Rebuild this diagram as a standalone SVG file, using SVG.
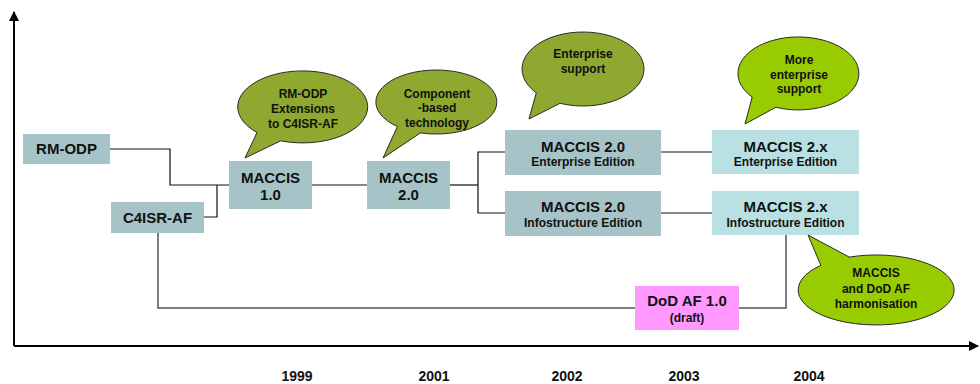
<svg xmlns="http://www.w3.org/2000/svg" width="980" height="384" viewBox="0 0 980 384">
<defs>
<marker id="ah" viewBox="0 0 10 10" refX="9" refY="5" markerWidth="10" markerHeight="10" markerUnits="userSpaceOnUse" orient="auto">
<path d="M0,0 L10,5 L0,10 Z" fill="#000"/>
</marker>
</defs>
<style>
text{font-family:"Liberation Sans",Arial,sans-serif;font-weight:bold;fill:#111;text-anchor:middle}
.b{font-size:15px}
.s{font-size:12px}
.y{font-size:14px}
.bt{font-size:12px}
.n1{fill:#a6c3c7}
.n2{fill:#b9e0e3}
.pk{fill:#ff99ff}
.ol{fill:#8fa830;stroke:#2a2a2a;stroke-width:1}
.lm{fill:#99cc00;stroke:#2a2a2a;stroke-width:1}
.c{fill:none;stroke:#111;stroke-width:1.2}
.g{fill:none;stroke:#555;stroke-width:1.5}
.ax{fill:none;stroke:#000;stroke-width:2}
</style>
<rect width="980" height="384" fill="#fff"/>
<g id="axes">
<line class="ax" x1="14" y1="346" x2="14" y2="12" marker-end="url(#ah)"/>
<line class="ax" x1="14" y1="346" x2="978" y2="346" marker-end="url(#ah)"/>
<text class="y" x="297" y="381">1999</text>
<text class="y" x="434" y="381">2001</text>
<text class="y" x="567" y="381">2002</text>
<text class="y" x="684" y="381">2003</text>
<text class="y" x="809" y="381">2004</text>
</g>
<g id="connectors">
<polyline class="c" points="110,149 170,149 170,185 229,185"/>
<polyline class="c" points="204,217 217,217 217,185"/>
<line class="c" x1="312" y1="185" x2="367" y2="185"/>
<line class="c" x1="450" y1="185" x2="478" y2="185"/>
<polyline class="c" points="505,152 478,152 478,213 505,213"/>
<line class="c" x1="661" y1="152" x2="712" y2="152"/>
<line class="c" x1="661" y1="213" x2="712" y2="213"/>
<polyline class="g" points="158,233 158,308 635,308"/>
<polyline class="g" points="739,308 786,308 786,235"/>
</g>
<g id="rm-odp">
<rect class="n1" x="23" y="134" width="87" height="30"/>
<text class="b" x="66.5" y="154">RM-ODP</text>
</g>
<g id="c4isr-af">
<rect class="n1" x="111" y="202" width="93" height="31"/>
<text class="b" x="157.5" y="223">C4ISR-AF</text>
</g>
<g id="maccis-1-0">
<rect class="n1" x="229" y="161" width="83" height="48"/>
<text class="b" x="270.5" y="183">MACCIS</text>
<text class="b" x="270.5" y="200">1.0</text>
</g>
<g id="maccis-2-0">
<rect class="n1" x="367" y="161" width="83" height="48"/>
<text class="b" x="408.5" y="183">MACCIS</text>
<text class="b" x="408.5" y="200">2.0</text>
</g>
<g id="maccis-2-0-ent">
<rect class="n1" x="505" y="130" width="156" height="45"/>
<text class="b" x="583" y="152">MACCIS 2.0</text>
<text class="s" x="583" y="166">Enterprise Edition</text>
</g>
<g id="maccis-2-0-inf">
<rect class="n1" x="505" y="191" width="156" height="45"/>
<text class="b" x="583" y="212">MACCIS 2.0</text>
<text class="s" x="583" y="227">Infostructure Edition</text>
</g>
<g id="maccis-2-x-ent">
<rect class="n2" x="712" y="130" width="147" height="44"/>
<text class="b" x="785.5" y="152">MACCIS 2.x</text>
<text class="s" x="785.5" y="166">Enterprise Edition</text>
</g>
<g id="maccis-2-x-inf">
<rect class="n2" x="712" y="191" width="147" height="44"/>
<text class="b" x="785.5" y="212">MACCIS 2.x</text>
<text class="s" x="785.5" y="227">Infostructure Edition</text>
</g>
<g id="dod-af">
<rect class="pk" x="635" y="286" width="104" height="44"/>
<text class="b" x="687" y="306">DoD AF 1.0</text>
<text class="s" x="687" y="322">(draft)</text>
</g>
<g id="callout-rm-odp-ext">
<path class="ol" d="M280.8,140.8 A65 36 0 1 0 257,132.5 L245,158 Z"/>
<text class="bt" x="303" y="98">RM-ODP</text>
<text class="bt" x="303" y="112.5">Extensions</text>
<text class="bt" x="303" y="127.5">to C4ISR-AF</text>
</g>
<g id="callout-component">
<path class="ol" d="M420.5,132.9 A60.5 32 0 1 0 397.4,126.5 L383,158 Z"/>
<text class="bt" x="437" y="97.5">Component</text>
<text class="bt" x="437" y="112">-based</text>
<text class="bt" x="437" y="126.5">technology</text>
</g>
<g id="callout-enterprise">
<path class="ol" d="M560.1,103.3 A61 37 0 1 0 536.3,92.8 L529,119 Z"/>
<text class="bt" x="583" y="58">Enterprise</text>
<text class="bt" x="583" y="73">support</text>
</g>
<g id="callout-more-enterprise">
<path class="lm" d="M775.8,107.3 A60.5 36.5 0 1 0 752.2,97 L745,124 Z"/>
<text class="bt" x="799" y="64">More</text>
<text class="bt" x="799" y="78.5">enterprise</text>
<text class="bt" x="799" y="93">support</text>
</g>
<g id="callout-harmonisation">
<path class="lm" d="M820.8,265.3 A78 35 0 1 0 849.3,257.1 L808,235 Z"/>
<text class="bt" x="876" y="277">MACCIS</text>
<text class="bt" x="876" y="292.5">and DoD AF</text>
<text class="bt" x="876" y="308">harmonisation</text>
</g>
</svg>
